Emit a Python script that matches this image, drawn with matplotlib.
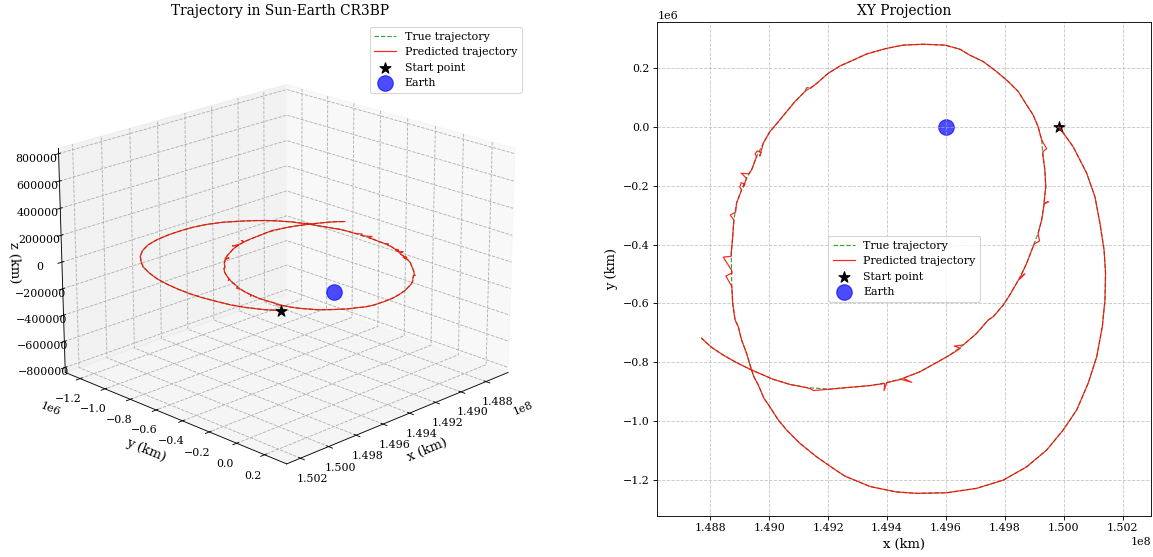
import matplotlib
matplotlib.use("Agg")
import matplotlib.pyplot as plt
import numpy as np

plt.rcParams["font.family"] = "serif"
plt.rcParams["grid.linestyle"] = "--"

# True trajectory (units of 1e6 km)
true_x = [149.983, 150.032, 150.078, 150.106, 150.123, 150.137, 150.142, 150.140,
          150.131, 150.112, 150.083, 150.044, 149.998, 149.942, 149.874, 149.795,
          149.704, 149.602, 149.500, 149.431, 149.343, 149.256, 149.217, 149.161,
          149.104, 149.059, 149.031, 149.002, 148.982, 148.963, 148.948, 148.940,
          148.923, 148.906, 148.895, 148.884, 148.876, 148.873, 148.872, 148.871,
          148.876, 148.880, 148.889, 148.906, 148.923, 148.940, 148.957, 148.980,
          149.002, 149.031, 149.059, 149.087, 149.121, 149.161, 149.200, 149.240,
          149.285, 149.331, 149.399, 149.455, 149.523, 149.597, 149.648, 149.681,
          149.727, 149.772, 149.812, 149.846, 149.874, 149.896, 149.913, 149.925,
          149.930, 149.936, 149.939, 149.933, 149.925, 149.913, 149.896, 149.874,
          149.846, 149.817, 149.795, 149.761, 149.744, 149.704, 149.659, 149.614,
          149.568, 149.512, 149.455, 149.399, 149.342, 149.297, 149.206, 149.127,
          149.070, 149.014, 148.940, 148.889, 148.843, 148.804, 148.770]
true_y = [0.000, -0.068, -0.158, -0.238, -0.328, -0.419, -0.498, -0.588,
          -0.679, -0.781, -0.871, -0.962, -1.030, -1.098, -1.155, -1.200,
          -1.228, -1.243, -1.245, -1.240, -1.222, -1.186, -1.160, -1.121,
          -1.075, -1.030, -0.996, -0.951, -0.922, -0.877, -0.849, -0.826,
          -0.769, -0.724, -0.679, -0.656, -0.600, -0.543, -0.487, -0.430,
          -0.374, -0.317, -0.260, -0.215, -0.175, -0.147, -0.102, -0.056,
          -0.017, 0.017, 0.051, 0.085, 0.119, 0.147, 0.181, 0.206,
          0.226, 0.247, 0.266, 0.277, 0.280, 0.277, 0.263, 0.243,
          0.221, 0.187, 0.153, 0.119, 0.074, 0.040, 0.000, -0.045,
          -0.102, -0.147, -0.204, -0.260, -0.317, -0.362, -0.407, -0.464,
          -0.521, -0.571, -0.605, -0.645, -0.656, -0.702, -0.741, -0.775,
          -0.801, -0.832, -0.854, -0.869, -0.879, -0.883, -0.891, -0.886,
          -0.875, -0.858, -0.826, -0.801, -0.775, -0.749, -0.718]

# Predicted trajectory: same path with the visible glitches
# (index in the true list after which the glitch points appear)
glitch_after = [37, 38, 41, 43, 44, 46, 52, 71, 75, 77, 79, 86, 90, 91, 94]
glitch_x = [[148.853, 148.874], [148.844, 148.871], [148.868, 148.886],
            [148.900, 148.905, 148.918, 148.912], [148.905, 148.930],
            [148.952, 148.960, 148.972, 148.968], [149.128, 149.140],
            [149.942, 149.929], [149.948, 149.934], [149.918, 149.900],
            [149.851, 149.868], [149.628, 149.650], [149.484, 149.448],
            [149.390, 149.392], [149.150, 149.140]]
glitch_y = [[-0.507, -0.497], [-0.443, -0.440], [-0.300, -0.290],
            [-0.205, -0.190, -0.195, -0.205], [-0.158, -0.160],
            [-0.092, -0.082, -0.088, -0.100], [0.133, 0.130],
            [-0.075, -0.085], [-0.255, -0.262], [-0.388, -0.398],
            [-0.515, -0.500], [-0.745, -0.752], [-0.868, -0.858],
            [-0.896, -0.872], [-0.896, -0.890]]

pred_x, pred_y = [], []
for i in range(len(true_x)):
    pred_x.append(true_x[i])
    pred_y.append(true_y[i])
    if i in glitch_after:
        k = glitch_after.index(i)
        pred_x.extend(glitch_x[k])
        pred_y.extend(glitch_y[k])

earth_x, earth_y, earth_z = 149.6e6, 0.0, 0.0

tx = np.array(true_x) * 1e6
ty = np.array(true_y) * 1e6
tz = np.zeros(len(tx))
px = np.array(pred_x) * 1e6
py = np.array(pred_y) * 1e6
pz = np.zeros(len(px))

xlim = (148.620e6, 150.297e6)
ylim = (-1.3212e6, 0.3555e6)
zlim = (-0.8385e6, 0.8385e6)

W, H = 1153, 557
fig = plt.figure(figsize=(W / 79, H / 79), dpi=79)

# 3D view
ax1 = fig.add_axes([33 / W, 41.2 / H, 494 / W, 494 / H], projection="3d")
ax1.plot(tx, ty, tz, "g--", lw=1.1, alpha=0.75, label="True trajectory")
ax1.plot(px, py, pz, "r-", lw=1.1, alpha=0.85, label="Predicted trajectory")
ax1.scatter(px[0], py[0], pz[0], c="black", marker="*", s=110,
            depthshade=False, label="Start point")
ax1.scatter(earth_x, earth_y, earth_z, c="blue", s=200, alpha=0.7,
            depthshade=False, label="Earth")
ax1.set_xlim(xlim)
ax1.set_ylim(ylim)
ax1.set_zlim(zlim)
ax1.set_xlabel("x (km)", fontsize=12)
ax1.set_ylabel("y (km)", fontsize=12)
ax1.set_zlabel("z (km)", fontsize=12)
ax1.set_title("Trajectory in Sun-Earth CR3BP", fontsize=12.5)
ax1.view_init(elev=20, azim=45)
ax1.legend(loc="upper right")

# XY projection
ax2 = fig.add_axes([657.3 / W, 41.2 / H, 493.9 / W, 493.8 / H])
ax2.plot(tx, ty, "g--", lw=1.1, alpha=0.75, label="True trajectory")
ax2.plot(px, py, "r-", lw=1.1, alpha=0.85, label="Predicted trajectory")
ax2.scatter(px[0], py[0], c="black", marker="*", s=110, label="Start point")
ax2.scatter(earth_x, earth_y, c="blue", s=200, alpha=0.7, label="Earth")
ax2.set_xlim(xlim)
ax2.set_ylim(ylim)
ax2.set_xlabel("x (km)", fontsize=12)
ax2.set_ylabel("y (km)", fontsize=12)
ax2.set_title("XY Projection", fontsize=12.5)
ax2.grid(True, linestyle="--", alpha=0.7)
ax2.legend(loc="center")

fig.savefig("out.png", dpi=79)
